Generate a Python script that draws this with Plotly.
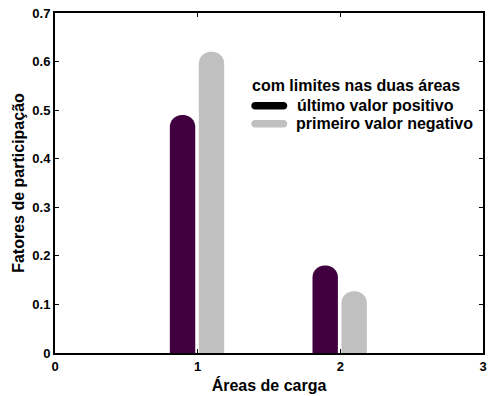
import plotly.graph_objects as go

# Participation factors per load area
areas = [1, 2]
ultimo_positivo = [0.49, 0.18]
primeiro_negativo = [0.62, 0.127]

x_ticks = [0, 1, 2, 3]
x_tick_labels = ["0", "1", "2", "3"]
y_ticks = [0, 0.1, 0.2, 0.3, 0.4, 0.5, 0.6, 0.7]
y_tick_labels = ["0", "0.1", "0.2", "0.3", "0.4", "0.5", "0.6", "0.7"]

legend_title = "com limites nas duas áreas"
series_names = ["último valor positivo", "primeiro valor negativo"]
series_colors = ["#400040", "#C0C0C0"]
legend_colors = ["#000000", "#C0C0C0"]

FONT = "Liberation Sans, Arial, sans-serif"

fig = go.Figure()
fig.add_trace(go.Bar(
    x=areas, y=ultimo_positivo, name=series_names[0],
    width=0.178, offset=-0.195,
    marker=dict(color=series_colors[0], cornerradius="50%", line=dict(width=0)),
    showlegend=False,
))
fig.add_trace(go.Bar(
    x=areas, y=primeiro_negativo, name=series_names[1],
    width=0.178, offset=0.008,
    marker=dict(color=series_colors[1], cornerradius="50%", line=dict(width=0)),
    showlegend=False,
))


def stadium(length, thick):
    """Rounded-cap line segment as a pixel-sized SVG path centred on 0,0."""
    r = thick / 2
    a = length / 2 - r
    k = 0.5523 * r
    return (f"M {-a},{-r} L {a},{-r} "
            f"C {a + k},{-r} {a + r},{-k} {a + r},0 "
            f"C {a + r},{k} {a + k},{r} {a},{r} "
            f"L {-a},{r} "
            f"C {-a - k},{r} {-a - r},{k} {-a - r},0 "
            f"C {-a - r},{-k} {-a - k},{-r} {-a},{-r} Z")


shapes = []
annotations = []
legend_rows_y = [0.509, 0.472]
for i, (name, col) in enumerate(zip(series_names, legend_colors)):
    shapes.append(dict(
        type="path", xref="x", yref="y",
        xsizemode="pixel", ysizemode="pixel",
        xanchor=1.502, yanchor=legend_rows_y[i],
        path=stadium(36, 7.5),
        fillcolor=col, line=dict(width=0),
    ))
    annotations.append(dict(
        x=1.672 + (0.008 if i == 0 else 0), y=legend_rows_y[i],
        xref="x", yref="y", xanchor="left", yanchor="middle",
        text=name, showarrow=False,
        font=dict(family=FONT, size=16, color="black", weight="bold"),
    ))
annotations.append(dict(
    x=1.365, y=0.550, xref="x", yref="y", xanchor="left", yanchor="middle",
    text=legend_title, showarrow=False,
    font=dict(family=FONT, size=16, color="black", weight="bold"),
))

axis_common = dict(
    showline=True, linecolor="black", linewidth=2, mirror="allticks",
    ticks="inside", ticklen=4, tickwidth=1, tickcolor="black",
    showgrid=False, zeroline=False,
    tickfont=dict(family=FONT, size=13, color="black", weight="bold"),
)

fig.update_layout(
    width=489, height=396,
    margin=dict(l=55, r=2, t=13, b=43),
    paper_bgcolor="white", plot_bgcolor="white",
    barmode="overlay",
    shapes=shapes, annotations=annotations,
    xaxis=dict(
        range=[0, 3], tickvals=x_ticks, ticktext=x_tick_labels,
        title=dict(text="Áreas de carga", standoff=7,
                   font=dict(family=FONT, size=16, color="black", weight="bold")),
        **axis_common,
    ),
    yaxis=dict(
        range=[0, 0.7], tickvals=y_ticks, ticktext=y_tick_labels,
        title=dict(text="Fatores de participação", standoff=4,
                   font=dict(family=FONT, size=16, color="black", weight="bold")),
        **axis_common,
    ),
)

fig.write_html("out.html")
